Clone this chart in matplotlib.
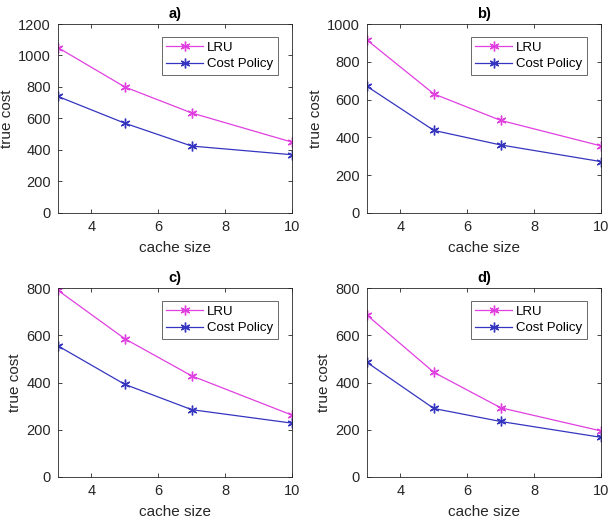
import matplotlib
matplotlib.use("Agg")
import matplotlib.pyplot as plt

plt.rcParams['font.family'] = ['Liberation Sans', 'DejaVu Sans']

cache_size = [3, 5, 7, 10]
titles = ["a)", "b)", "c)", "d)"]
lru_a = [1050, 800, 635, 450]
cost_a = [740, 570, 425, 370]
lru_b = [915, 630, 490, 355]
cost_b = [670, 437, 360, 272]
lru_c = [790, 585, 428, 262]
cost_c = [555, 392, 285, 228]
lru_d = [685, 443, 293, 195]
cost_d = [485, 290, 235, 168]
ymaxes = [1200, 1000, 800, 800]
xticks = [4, 6, 8, 10]

lru_all = [lru_a, lru_b, lru_c, lru_d]
cost_all = [cost_a, cost_b, cost_c, cost_d]

W, H = 614, 528
fig = plt.figure(figsize=(W / 100, H / 100), dpi=100)

# axes boxes in pixels: left, top, right, bottom
boxes = [(58, 24, 292, 213), (367, 24, 601, 213),
         (58, 288, 292, 477), (367, 288, 601, 477)]

magenta = '#e040e0'
blue = '#3535c0'
txtc = '#262626'
ast = (6, 2, 0)
for i in range(4):
    l, t, r, b = boxes[i]
    ax = fig.add_axes([l / W, 1 - b / H, (r - l) / W, (b - t) / H])
    ax.plot(cache_size, lru_all[i], color=magenta, marker=ast, markersize=7,
            markeredgewidth=1.0, linewidth=0.9, label='LRU')
    ax.plot(cache_size, cost_all[i], color=blue, marker=ast, markersize=7,
            markeredgewidth=1.0, linewidth=0.9, label='Cost Policy')
    ax.set_xlim(3, 10)
    ax.set_ylim(0, ymaxes[i])
    ax.set_xticks(xticks)
    ax.set_yticks(list(range(0, ymaxes[i] + 1, 200)))
    ax.tick_params(direction='in', top=True, right=True, labelsize=10.5,
                   colors=txtc, length=3, width=0.6, pad=5)
    for s in ax.spines.values():
        s.set_color('#262626')
        s.set_linewidth(0.6)
    ax.set_xlabel('cache size', fontsize=11, color=txtc, labelpad=5)
    ax.set_ylabel('true cost', fontsize=11, color=txtc, labelpad=3)
    ax.set_title(titles[i], fontsize=10.5, fontweight='bold', pad=4)
    leg = ax.legend(loc='upper right', bbox_to_anchor=(0.94, 0.93),
                    fontsize=9.5, frameon=True, fancybox=False,
                    edgecolor='#262626', borderpad=0.35, handlelength=2.8,
                    labelspacing=0.3, handletextpad=0.3, borderaxespad=0)
    leg.get_frame().set_linewidth(0.6)

fig.savefig('out.png', dpi=100)
